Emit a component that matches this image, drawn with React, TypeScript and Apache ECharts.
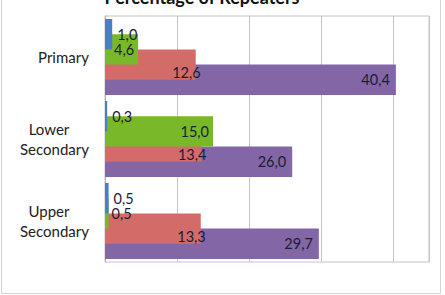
import React, { useEffect, useRef } from "react";
import * as echarts from "echarts";

const categories = ["Primary", "Lower Secondary", "Upper Secondary"];
const seriesNames = ["Series 1", "Series 2", "Series 3", "Series 4"];
const blueValues = [1.0, 0.3, 0.5];
const greenValues = [4.6, 15.0, 0.5];
const redValues = [12.6, 13.4, 13.3];
const purpleValues = [40.4, 26.0, 29.7];
const axisMax = 45;
const axisInterval = 10;
const titleText = "Percentage of Repeaters";

const colors = ["#4a7fc1", "#78b829", "#d36b69", "#8266a6"];
const FONT = "Lato, 'Noto Sans', sans-serif";

const fmt = (v: number) => v.toFixed(1).replace(".", ",");

export default function App() {
  const ref = useRef<HTMLDivElement>(null);
  useEffect(() => {
    if (!ref.current) return;
    const chart = echarts.init(ref.current, null, { renderer: "svg" });
    const allValues = [blueValues, greenValues, redValues, purpleValues];
    const labelFor = (si: number, v: number) => {
      const base = {
        show: true,
        formatter: (p: any) => fmt(p.value),
        color: "#1c1c34",
        fontFamily: FONT,
        fontSize: 14.5,
      };
      if (si === 0) return { ...base, position: "right", distance: 5 };
      if (si === 1)
        return v < 3
          ? { ...base, position: "right", distance: 3 }
          : { ...base, position: "insideRight", distance: 4 };
      if (si === 2) return { ...base, position: "insideRight", distance: 5, offset: [10, 8] };
      return { ...base, position: "insideRight", distance: 6 };
    };
    const series = allValues.map((vals, si) => ({
      type: "bar",
      name: seriesNames[si],
      z: 5 - si,
      barGap: "-50%",
      barCategoryGap: "7.3%",
      itemStyle: { color: colors[si] },
      data: vals.map((v) => ({ value: v, label: labelFor(si, v) })),
    }));
    chart.setOption({
      animation: false,
      grid: {
        left: 105,
        right: 16,
        top: 16,
        bottom: 33,
        show: true,
        borderColor: "#c4c4c4",
        borderWidth: 1,
      },
      xAxis: {
        type: "value",
        min: 0,
        max: axisMax,
        interval: axisInterval,
        axisLabel: { show: false },
        axisTick: { show: false },
        axisLine: { show: false },
        splitLine: { lineStyle: { color: "#c4c4c4", width: 1 } },
      },
      yAxis: {
        type: "category",
        data: categories,
        inverse: true,
        axisLine: { lineStyle: { color: "#b0b0b0" } },
        axisTick: { length: 6, lineStyle: { color: "#b0b0b0" } },
        axisLabel: {
          margin: 50.5,
          align: "center",
          formatter: (v: string) => {
            const words = v.split(" ");
            if (words.length === 1) return `{p|${v}}`;
            return `{a|${words[0]}}\n{b|${words.slice(1).join(" ")}}`;
          },
          rich: {
            p: { fontFamily: FONT, fontSize: 15, color: "#222", lineHeight: 20, padding: [0, 0, 0, 18] },
            a: { fontFamily: FONT, fontSize: 15, color: "#222", lineHeight: 20, padding: [0, 11, 0, 0] },
            b: { fontFamily: FONT, fontSize: 15, color: "#222", lineHeight: 20 },
          },
        },
      },
      graphic: [
        {
          type: "rect",
          shape: { x: 1.5, y: -10, width: 439, height: 303.5 },
          style: { fill: "none", stroke: "#d4d4d4", lineWidth: 1 },
          silent: true,
        },
        {
          type: "text",
          x: 202,
          y: 6,
          style: {
            text: titleText,
            font: `bold 18px ${FONT}`,
            fill: "#111",
            align: "center",
            verticalAlign: "bottom",
          },
        },
      ],
      series,
    });
    return () => chart.dispose();
  }, []);
  return (
    <div
      ref={ref}
      style={{ position: "absolute", left: 0, top: 0, width: 445, height: 295, background: "#fff" }}
    />
  );
}
